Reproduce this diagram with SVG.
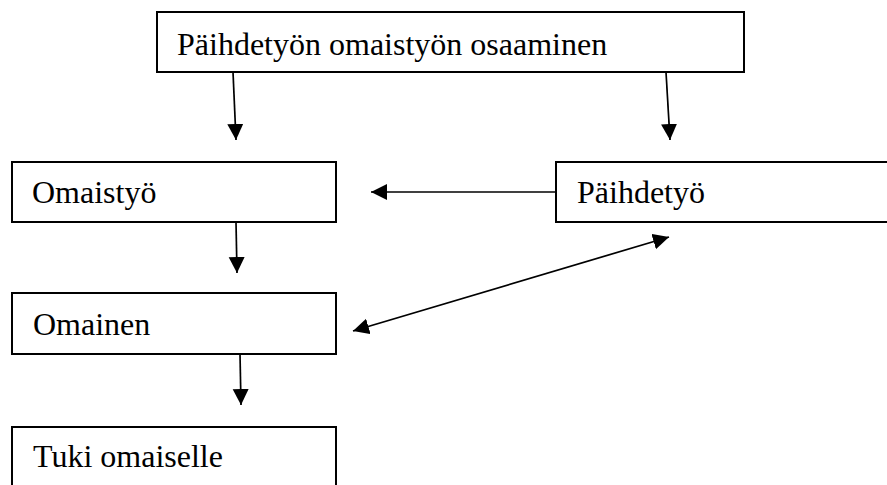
<svg xmlns="http://www.w3.org/2000/svg" width="887" height="485" viewBox="0 0 887 485">
<style>
.box{fill:#fff;stroke:#000;stroke-width:2}
.lbl{font-family:"Liberation Serif","Times New Roman",serif;font-size:32px;fill:#000}
.con{stroke:#000;stroke-width:1.7;fill:none}
</style>
<defs>
<marker id="ah" markerUnits="userSpaceOnUse" markerWidth="17" markerHeight="17" refX="16" refY="8" orient="auto-start-reverse">
<path d="M0,0 L16,8 L0,16 z" fill="#000"/>
</marker>
</defs>
<rect width="887" height="485" fill="#fff"/>
<g id="n-osaaminen"><rect class="box" x="157" y="12" width="587" height="60"/><text class="lbl" x="177" y="55">Päihdetyön omaistyön osaaminen</text></g>
<g id="n-omaistyo"><rect class="box" x="12" y="162" width="324" height="60"/><text class="lbl" x="32" y="203">Omaistyö</text></g>
<g id="n-paihdetyo"><rect class="box" x="556" y="162" width="340" height="60"/><text class="lbl" x="577" y="203">Päihdetyö</text></g>
<g id="n-omainen"><rect class="box" x="12" y="293" width="324" height="61"/><text class="lbl" x="33" y="335">Omainen</text></g>
<g id="n-tuki"><rect class="box" x="12" y="427" width="324" height="80"/><text class="lbl" x="33" y="467">Tuki omaiselle</text></g>
<g id="connectors">
<line class="con" x1="233" y1="72" x2="236" y2="140" marker-end="url(#ah)"/>
<line class="con" x1="666" y1="72" x2="670" y2="140" marker-end="url(#ah)"/>
<line class="con" x1="556" y1="192" x2="371" y2="192" marker-end="url(#ah)"/>
<line class="con" x1="236" y1="222" x2="237" y2="273" marker-end="url(#ah)"/>
<line class="con" x1="240" y1="354" x2="241" y2="405" marker-end="url(#ah)"/>
<line class="con" x1="353" y1="331" x2="669" y2="237" marker-start="url(#ah)" marker-end="url(#ah)"/>
</g>
</svg>
